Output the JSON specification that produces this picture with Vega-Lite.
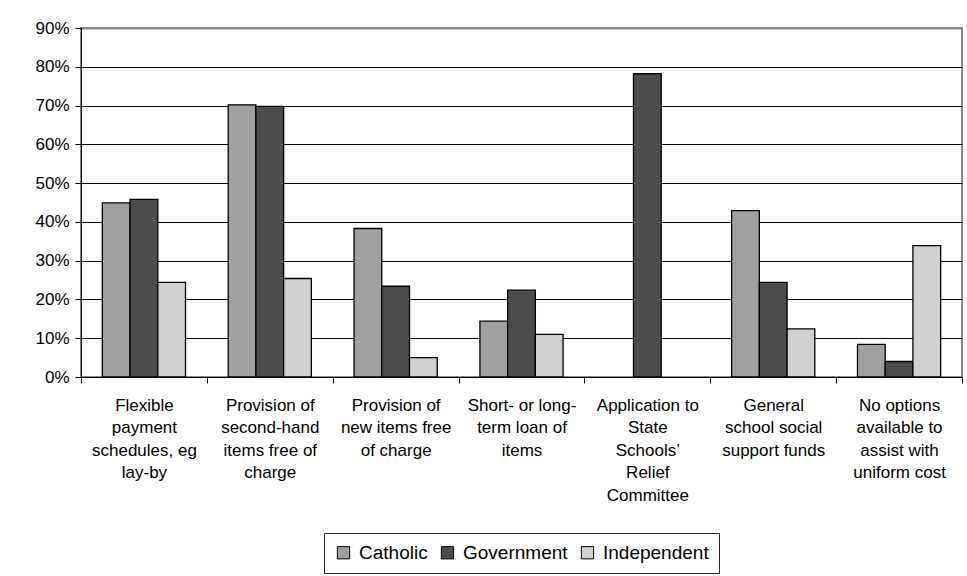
{
  "$schema": "https://vega.github.io/schema/vega-lite/v6.json",
  "width": 881,
  "height": 349,
  "autosize": "none",
  "padding": {"left": 81, "top": 28, "right": 5, "bottom": 199},
  "background": "white",
  "data": {
    "values": [
      {"option": "Flexible|payment|schedules, eg|lay-by", "sector": "Catholic", "pct": 0.449},
      {"option": "Flexible|payment|schedules, eg|lay-by", "sector": "Government", "pct": 0.458},
      {"option": "Flexible|payment|schedules, eg|lay-by", "sector": "Independent", "pct": 0.244},
      {"option": "Provision of|second-hand|items free of|charge", "sector": "Catholic", "pct": 0.702},
      {"option": "Provision of|second-hand|items free of|charge", "sector": "Government", "pct": 0.698},
      {"option": "Provision of|second-hand|items free of|charge", "sector": "Independent", "pct": 0.254},
      {"option": "Provision of|new items free|of charge", "sector": "Catholic", "pct": 0.383},
      {"option": "Provision of|new items free|of charge", "sector": "Government", "pct": 0.234},
      {"option": "Provision of|new items free|of charge", "sector": "Independent", "pct": 0.050},
      {"option": "Short- or long-|term loan of|items", "sector": "Catholic", "pct": 0.144},
      {"option": "Short- or long-|term loan of|items", "sector": "Government", "pct": 0.224},
      {"option": "Short- or long-|term loan of|items", "sector": "Independent", "pct": 0.110},
      {"option": "Application to|State|Schools’|Relief|Committee", "sector": "Catholic", "pct": 0},
      {"option": "Application to|State|Schools’|Relief|Committee", "sector": "Government", "pct": 0.782},
      {"option": "Application to|State|Schools’|Relief|Committee", "sector": "Independent", "pct": 0},
      {"option": "General|school social|support funds", "sector": "Catholic", "pct": 0.429},
      {"option": "General|school social|support funds", "sector": "Government", "pct": 0.244},
      {"option": "General|school social|support funds", "sector": "Independent", "pct": 0.124},
      {"option": "No options|available to|assist with|uniform cost", "sector": "Catholic", "pct": 0.084},
      {"option": "No options|available to|assist with|uniform cost", "sector": "Government", "pct": 0.040},
      {"option": "No options|available to|assist with|uniform cost", "sector": "Independent", "pct": 0.339}
    ]
  },
  "transform": [{"filter": "datum.pct > 0"}],
  "mark": {"type": "bar", "stroke": "#000000", "strokeWidth": 1.3},
  "encoding": {
    "x": {
      "field": "option",
      "type": "nominal",
      "sort": null,
      "scale": {"paddingInner": 0, "paddingOuter": 0},
      "axis": {
        "title": null,
        "labelAngle": 0,
        "labelExpr": "split(datum.label, '|')",
        "labelLineHeight": 22.5,
        "labelFont": "Liberation Sans",
        "labelFontSize": 17,
        "labelColor": "#000000",
        "labelLimit": 0,
        "labelPadding": 14,
        "tickBand": "extent",
        "tickSize": 6,
        "tickColor": "#000000",
        "domainColor": "#000000",
        "grid": false
      }
    },
    "xOffset": {
      "field": "sector",
      "type": "nominal",
      "scale": {"domain": ["Catholic", "Government", "Independent"], "paddingInner": 0, "paddingOuter": 0.77}
    },
    "y": {
      "field": "pct",
      "type": "quantitative",
      "scale": {"domain": [0, 0.9], "nice": false},
      "axis": {
        "title": null,
        "format": ".0%",
        "values": [0, 0.1, 0.2, 0.3, 0.4, 0.5, 0.6, 0.7, 0.8, 0.9],
        "labelFont": "Liberation Sans",
        "labelFontSize": 17,
        "labelColor": "#000000",
        "labelPadding": 6,
        "tickSize": 6,
        "tickColor": "#000000",
        "domainColor": "#000000",
        "grid": true,
        "gridColor": {"condition": {"test": "datum.value >= 0.9", "value": "#888888"}, "value": "#000000"},
        "gridWidth": {"condition": {"test": "datum.value >= 0.9", "value": 2}, "value": 1}
      }
    },
    "fill": {
      "field": "sector",
      "type": "nominal",
      "scale": {"domain": ["Catholic", "Government", "Independent"], "range": ["#a0a0a0", "#4d4d4d", "#d0d0d0"]},
      "legend": {
        "title": null,
        "orient": "none",
        "direction": "horizontal",
        "legendX": 243,
        "legendY": 505,
        "symbolType": "square",
        "symbolSize": 150,
        "symbolStrokeColor": "#000000",
        "symbolStrokeWidth": 1,
        "labelFont": "Liberation Sans",
        "labelFontSize": 19,
        "labelColor": "#000000",
        "labelOffset": 6,
        "columnPadding": 10,
        "padding": 10,
        "strokeColor": "#222222"
      }
    }
  },
  "config": {
    "view": {"stroke": "#888888", "strokeWidth": 2}
  }
}
